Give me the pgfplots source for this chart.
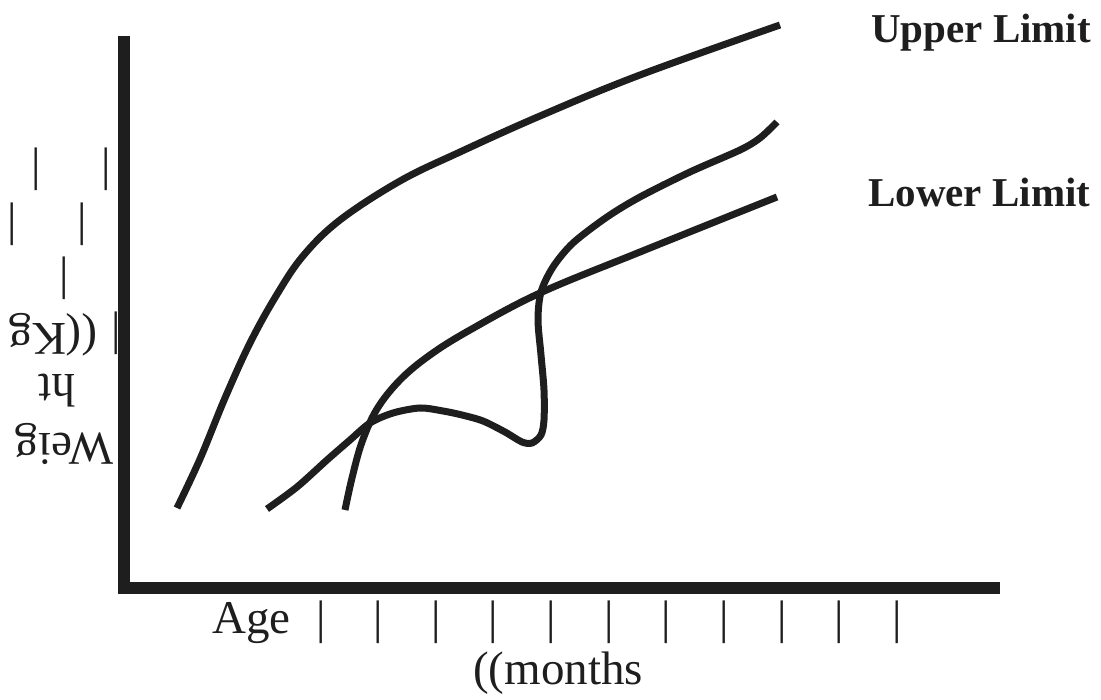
\documentclass[border=0pt]{standalone}
\usepackage{pgfplots}
\pgfplotsset{compat=1.18}
\usepackage{fontspec}
\setmainfont{Liberation Serif}
\definecolor{ink}{RGB}{30,30,30}
\newcommand\lblfont{\fontsize{47}{55}\selectfont}
\tikzset{lbl/.style={text=ink, inner sep=0pt, font=\lblfont}}

\begin{document}
\begin{tikzpicture}
\begin{axis}[
    scale only axis,
    width=1101pt, height=700pt,
    xmin=0, xmax=1101, ymin=0, ymax=700,
    y dir=reverse,
    hide axis,
    clip=false,
  ]
  % page frame (invisible)
  \addplot[draw=none] coordinates {(0,0) (1101,700)};

  % axes drawn as thick strokes
  \addplot[ink, line width=12pt] coordinates {(124,36) (124,594)};
  \addplot[ink, line width=12pt] coordinates {(118,588) (1000,588)};

  % upper limit
  \addplot[ink, line width=7pt, smooth, tension=0.6] coordinates {
    (177,508) (200,459) (225,398) (250,343) (276,296) (303,256)
    (340,220) (400,181) (460,152) (540,116) (640,75) (780,25)};

  % lower limit
  \addplot[ink, line width=7pt, smooth, tension=0.6] coordinates {
    (345,510) (352,478) (362,442) (377,409) (400,380) (430,355)
    (470,330) (540,293) (640,252) (777,197)};

  % child's curve
  \addplot[ink, line width=7pt, smooth, tension=0.5] coordinates {
    (267,509) (297,487) (327,460) (350,440) (370,423) (393,413)
    (420,408) (443,411) (462,415) (483,421) (505,432) (522,442)
    (532,443) (541,435) (544,420) (544,390) (541,355) (538,320)
    (541,292) (553,267) (573,243) (607,217) (640,197) (690,172)
    (740,150) (760,138) (777,122)};

  % labels
  \node[lbl, anchor=base west, font=\fontsize{41}{48}\selectfont\bfseries]
    at (axis cs:871,43) {Upper Limit};
  \node[lbl, anchor=base west, font=\fontsize{41}{48}\selectfont\bfseries]
    at (axis cs:868,207) {Lower Limit};

  \node[lbl, anchor=base west] at (axis cs:212,633) {Age};
  \pgfplotsinvokeforeach{321,378,436,493,551,609,666,724,782,839,897}{
    \node[lbl, anchor=base] at (axis cs:#1,633) {|};
  }
  \node[lbl, anchor=base west] at (axis cs:473,684) {((months};

  % y label, set upside down
  \node[lbl, rotate=180] at (axis cs:64,444) {Weig};
  \node[lbl, rotate=180] at (axis cs:57,391) {ht};
  \node[lbl, rotate=180] at (axis cs:53,335) {((Kg};
  \node[lbl] at (axis cs:116,333) {|};
  \node[lbl] at (axis cs:64,278) {|};
  \node[lbl] at (axis cs:12,224) {|};
  \node[lbl] at (axis cs:82,224) {|};
  \node[lbl] at (axis cs:36,169) {|};
  \node[lbl] at (axis cs:106,169) {|};
\end{axis}
\end{tikzpicture}
\end{document}
